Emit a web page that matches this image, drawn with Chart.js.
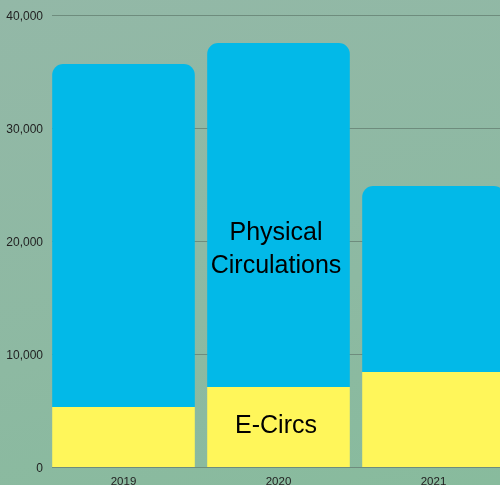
<!DOCTYPE html>
<html>
<head>
<meta charset="utf-8">
<script src="https://cdn.jsdelivr.net/npm/chart.js@4"></script>
<style>
  html, body { margin: 0; padding: 0; overflow: hidden; }
  body { width: 500px; height: 485px; background: linear-gradient(165deg, #93b8a7 0%, #8db9a2 60%, #88bb9d 100%); }
  canvas { display: block; }
</style>
</head>
<body>
<canvas id="chart" width="511" height="485"></canvas>
<script>
// data
var years = ["2019", "2020", "2021"];
var eCircs = [5310, 7080, 8400];
var physical = [30350, 30440, 16470];
var yTicks = [0, 10000, 20000, 30000, 40000];

var FONT = "'Liberation Sans', Arial, sans-serif";

// horizontal grid starting at the first bar's left edge
var gridLines = {
  id: "gridLines",
  beforeDatasetsDraw: function (chart) {
    var ctx = chart.ctx;
    var y = chart.scales.y;
    var first = chart.getDatasetMeta(0).data[0];
    var left = Math.round(first.x - first.width / 2);
    ctx.save();
    ctx.strokeStyle = "#6e8c7d";
    ctx.lineWidth = 1;
    yTicks.forEach(function (v) {
      var py = Math.round(y.getPixelForValue(v)) + 0.5;
      ctx.beginPath();
      ctx.moveTo(left, py);
      ctx.lineTo(chart.chartArea.right, py);
      ctx.stroke();
    });
    ctx.restore();
  }
};

// labels inside the 2020 bar
var innerLabels = {
  id: "innerLabels",
  afterDatasetsDraw: function (chart) {
    var ctx = chart.ctx;
    var y = chart.scales.y;
    var bar = chart.getDatasetMeta(0).data[1];
    var cx = bar.x - 2.5;
    ctx.save();
    ctx.fillStyle = "#000";
    ctx.font = "25px " + FONT;
    ctx.textAlign = "center";
    ctx.textBaseline = "middle";
    ctx.fillText("Physical", cx, y.getPixelForValue(20700));
    ctx.fillText("Circulations", cx, y.getPixelForValue(17750));
    ctx.fillText("E-Circs", cx, y.getPixelForValue(3650));
    ctx.restore();
  }
};

new Chart(document.getElementById("chart"), {
  type: "bar",
  data: {
    labels: years,
    datasets: [
      {
        label: "E-Circs",
        data: eCircs,
        backgroundColor: "#fff65a",
        barPercentage: 0.92,
        categoryPercentage: 1.0
      },
      {
        label: "Physical Circulations",
        data: physical,
        backgroundColor: "#02b9e8",
        borderRadius: { topLeft: 11, topRight: 11, bottomLeft: 0, bottomRight: 0 },
        borderSkipped: "bottom",
        barPercentage: 0.92,
        categoryPercentage: 1.0
      }
    ]
  },
  options: {
    responsive: false,
    animation: false,
    devicePixelRatio: 1,
    layout: { padding: { top: 15, right: 0, left: 0, bottom: 0 } },
    plugins: { legend: { display: false }, tooltip: { enabled: false } },
    scales: {
      x: {
        stacked: true,
        grid: { display: false, drawTicks: false },
        border: { display: false },
        ticks: { color: "#222", font: { size: 11.5, family: FONT }, padding: 8 },
        afterFit: function (s) { s.height = 18; }
      },
      y: {
        stacked: true,
        min: 0,
        max: 40000,
        afterBuildTicks: function (s) { s.ticks = yTicks.map(function (v) { return { value: v }; }); },
        grid: { display: false, drawTicks: false },
        border: { display: false },
        ticks: {
          color: "#222",
          font: { size: 12, family: FONT },
          padding: 3,
          labelOffset: 1.5,
          callback: function (v) { return v.toLocaleString("en-US"); }
        },
        afterFit: function (s) { s.width = 46; }
      }
    }
  },
  plugins: [gridLines, innerLabels]
});
</script>
</body>
</html>
